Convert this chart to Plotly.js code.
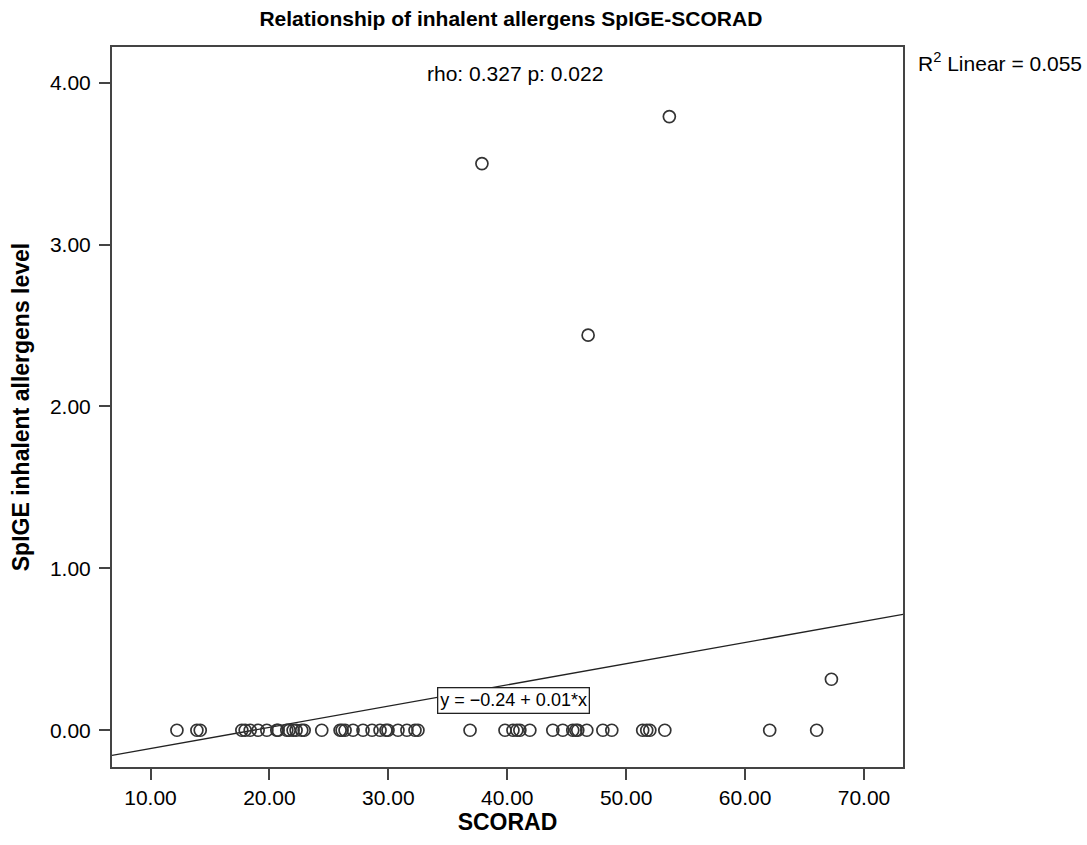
<!DOCTYPE html>
<html>
<head>
<meta charset="utf-8">
<script src="https://cdn.plot.ly/plotly-3.0.1.min.js"></script>
<style>
html,body{margin:0;padding:0;background:#fff;}
#chart{width:1087px;height:845px;}
</style>
</head>
<body>
<div id="chart"></div>
<script>
// SCORAD values (x) and SpIGE inhalent allergens level (y)
const scorad = [
  12.22, 13.90, 14.18, 17.68, 17.96, 18.38, 19.05, 19.78, 20.62, 20.73,
  21.46, 21.66, 21.99, 22.24, 22.72, 22.92, 24.40, 25.94, 26.11, 26.36,
  27.03, 27.87, 28.63, 29.30, 29.80, 29.97, 30.81, 31.56, 32.24, 32.49,
  36.87, 39.81, 40.48, 40.81, 41.06, 41.90, 43.83, 44.67, 45.51, 45.77,
  45.93, 46.69, 48.04, 48.79, 51.39, 51.73, 51.99, 53.25, 62.07, 66.02,
  37.87, 53.63, 46.80, 67.26
];
const spige = [
  0, 0, 0, 0, 0, 0, 0, 0, 0, 0,
  0, 0, 0, 0, 0, 0, 0, 0, 0, 0,
  0, 0, 0, 0, 0, 0, 0, 0, 0, 0,
  0, 0, 0, 0, 0, 0, 0, 0, 0, 0,
  0, 0, 0, 0, 0, 0, 0, 0, 0, 0,
  3.50, 3.79, 2.44, 0.315
];
// Fitted linear regression (as drawn)
const fitIntercept = -0.244;
const fitSlope = 0.0131;
const xRange = [6.76, 73.28];
const yRange = [-0.227, 4.22];
const xTicks = [10, 20, 30, 40, 50, 60, 70];
const yTicks = [0, 1, 2, 3, 4];

const chartTitle = 'Relationship of inhalent allergens SpIGE-SCORAD';
const xTitle = 'SCORAD';
const yTitle = 'SpIGE inhalent allergens level';
const statText = 'rho: 0.327 p: 0.022';
const r2Text = 'R<sup>2</sup> Linear = 0.055';
const eqText = 'y = \u22120.24 + 0.01*x';

const fitX = xRange.slice();
const fitY = fitX.map(v => fitIntercept + fitSlope * v);

const font = 'Liberation Sans, Arial, Helvetica, sans-serif';

const traces = [
  {
    type: 'scatter', mode: 'lines', x: fitX, y: fitY,
    line: {color: '#222', width: 1.3}, hoverinfo: 'skip', showlegend: false
  },
  {
    type: 'scatter', mode: 'markers', x: scorad, y: spige,
    marker: {symbol: 'circle-open', size: 12, color: '#333', line: {width: 1.7, color: '#333'}},
    showlegend: false
  }
];

const layout = {
  width: 1087, height: 845,
  paper_bgcolor: '#fff', plot_bgcolor: '#fff',
  margin: {l: 112, r: 184, t: 47, b: 78},
  font: {family: font, color: '#000'},
  title: {text: '<b>' + chartTitle + '</b>', x: 0.47, xanchor: 'center', y: 0.978, yanchor: 'middle', font: {size: 21, family: font, color: '#000'}},
  xaxis: {
    range: xRange, tickvals: xTicks, tickformat: '.2f',
    ticks: 'outside', ticklen: 11, tickwidth: 2, tickcolor: '#444',
    showline: true, linecolor: '#444', linewidth: 2, mirror: true,
    showgrid: false, zeroline: false,
    tickfont: {size: 21, family: font, color: '#000'},
    title: {text: '<b>' + xTitle + '</b>', font: {size: 23, family: font, color: '#000'}, standoff: 6}
  },
  yaxis: {
    range: yRange, tickvals: yTicks, tickformat: '.2f',
    ticks: 'outside', ticklen: 11, tickwidth: 2, tickcolor: '#444',
    showline: true, linecolor: '#444', linewidth: 2, mirror: true,
    showgrid: false, zeroline: false, ticklabelstandoff: 4,
    tickfont: {size: 21, family: font, color: '#000'},
    title: {text: '<b>' + yTitle + '</b>', font: {size: 23, family: font, color: '#000'}, standoff: 14}
  },
  annotations: [
    {text: statText, xref: 'paper', yref: 'paper', x: 0.509, y: 0.9625, xanchor: 'center', yanchor: 'middle', showarrow: false, font: {size: 21, family: font, color: '#000'}},
    {text: r2Text, xref: 'paper', yref: 'paper', x: 1.017, y: 0.979, xanchor: 'left', yanchor: 'middle', showarrow: false, font: {size: 21, family: font, color: '#000'}},
    {text: eqText, xref: 'x', yref: 'y', x: 40.5, y: 0.185, xanchor: 'center', yanchor: 'middle', showarrow: false,
     font: {size: 18, family: font, color: '#000'}, bordercolor: '#222', borderwidth: 1.3, borderpad: 2, bgcolor: '#fff'}
  ]
};

Plotly.newPlot('chart', traces, layout, {displayModeBar: false, staticPlot: true});
</script>
</body>
</html>
